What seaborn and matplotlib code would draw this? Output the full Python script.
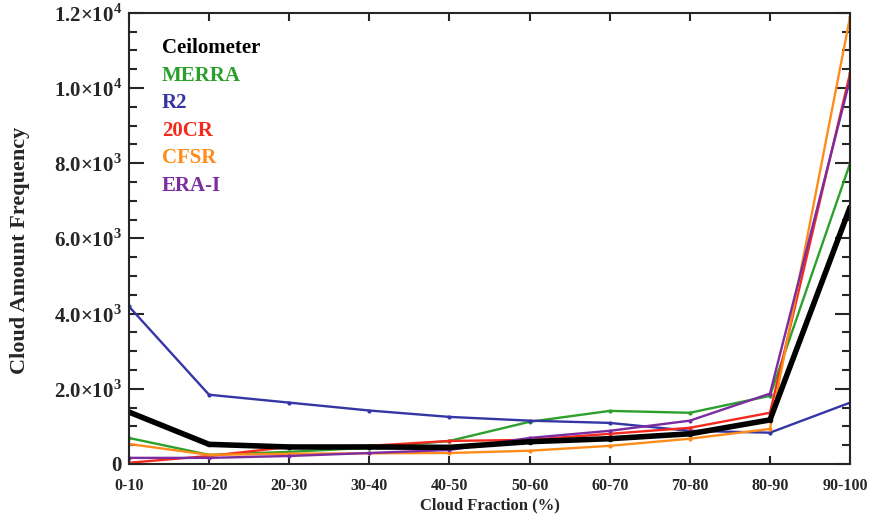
import numpy as np
import pandas as pd
import seaborn as sns
import matplotlib
matplotlib.use("Agg")
import matplotlib.pyplot as plt
from matplotlib.ticker import MultipleLocator, FixedLocator
from matplotlib.transforms import ScaledTranslation

# values
bins = ["0-10", "10-20", "20-30", "30-40", "40-50", "50-60", "60-70", "70-80", "80-90", "90-100"]
ceilometer = [1380, 520, 450, 450, 440, 590, 670, 800, 1170, 6830]
merra = [690, 240, 320, 430, 610, 1120, 1410, 1360, 1810, 8000]
r2 = [4190, 1840, 1630, 1420, 1250, 1150, 1090, 880, 830, 1630]
cr20 = [30, 210, 450, 480, 610, 640, 800, 960, 1360, 10400]
cfsr = [530, 240, 270, 280, 290, 350, 480, 670, 930, 11900]
erai = [160, 160, 210, 290, 370, 690, 880, 1150, 1870, 10240]

names = ["Ceilometer", "MERRA", "R2", "20CR", "CFSR", "ERA-I"]
colors = ["black", "#2ca02c", "#3535a5", "#f52a1e", "#ff8c1a", "#7a2ca0"]
series = [ceilometer, merra, r2, cr20, cfsr, erai]
ytick_vals = [0, 2000, 4000, 6000, 8000, 10000, 12000]
ytick_labels = ["0", "2.0×10$^{3}$", "4.0×10$^{3}$", "6.0×10$^{3}$", "8.0×10$^{3}$",
                "1.0×10$^{4}$", "1.2×10$^{4}$"]

sns.set_style("ticks")
plt.rcParams["font.family"] = ["Liberation Serif", "DejaVu Serif"]
plt.rcParams["font.weight"] = "bold"
plt.rcParams["mathtext.fontset"] = "custom"
plt.rcParams["mathtext.rm"] = "Liberation Serif:bold"
plt.rcParams["mathtext.bf"] = "Liberation Serif:bold"

fig = plt.figure(figsize=(8.71, 5.16), dpi=100)
ax = fig.add_axes([0.148, 0.101, 0.828, 0.874])

x = np.arange(len(bins))
# coloured reanalyses first, ceilometer on top
for name, col, vals in list(zip(names, colors, series))[1:] + [(names[0], colors[0], series[0])]:
    lw = 4.0 if name == "Ceilometer" else 1.7
    ms = 4 if name == "Ceilometer" else 3
    sns.lineplot(x=x, y=vals, color=col, lw=lw, marker="o", markersize=ms,
                 markeredgewidth=0, ax=ax, label=name)

ax.set_xlim(0, 9)
ax.set_ylim(0, 12000)
ax.set_xticks(x)
ax.set_xticklabels(bins, fontsize=11.5, fontweight="bold")
ax.yaxis.set_major_locator(FixedLocator(ytick_vals))
ax.yaxis.set_minor_locator(MultipleLocator(500))
ax.set_yticklabels(ytick_labels, fontsize=15, fontweight="bold")

ax.tick_params(axis="both", which="major", direction="in", top=True, right=True, width=1.5)
ax.tick_params(axis="y", which="major", length=11, pad=5)
ax.tick_params(axis="x", which="major", length=6, pad=10)
ax.tick_params(axis="y", which="minor", direction="in", right=True, length=6, width=1.5)
for s in ax.spines.values():
    s.set_linewidth(1.5)

# last category label sits a little left of its tick, as in the original
last = ax.get_xticklabels()[-1]
last.set_transform(last.get_transform() + ScaledTranslation(-5 / 100, 0, fig.dpi_scale_trans))

ax.set_xlabel("Cloud Fraction (%)", fontsize=12, fontweight="bold")
ax.set_ylabel("Cloud Amount Frequency", fontsize=16, fontweight="bold")
ax.xaxis.set_label_coords(0.5, -0.074)
ax.yaxis.set_label_coords(-0.137, 0.474)

# legend: coloured names only
handles, labels = ax.get_legend_handles_labels()
order = [labels.index(n) for n in names]
leg = ax.legend([handles[i] for i in order], [labels[i] for i in order],
                loc="upper left", bbox_to_anchor=(0.02, 0.985), frameon=False,
                handlelength=0, handletextpad=0, labelspacing=0.36,
                labelcolor=colors, prop={"family": "Liberation Serif", "weight": "bold", "size": 15})
for h in leg.legend_handles:
    h.set_visible(False)

fig.savefig("out.png", dpi=100)
